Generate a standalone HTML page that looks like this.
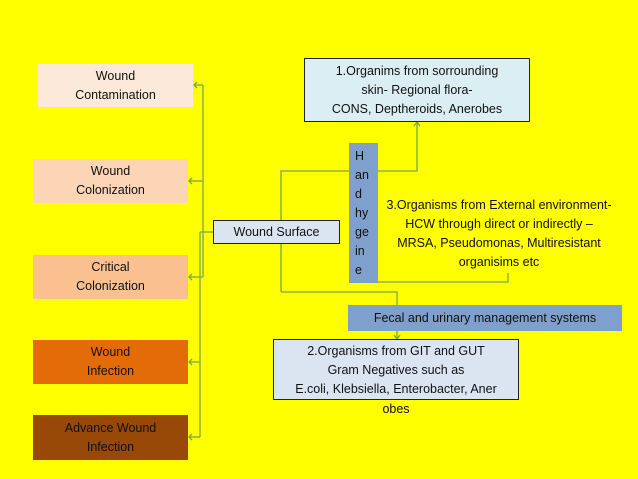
<!DOCTYPE html>
<html><head><style>
body{margin:0;width:638px;height:479px;background:#ffff00;position:relative;overflow:hidden;font-family:"Liberation Sans",sans-serif;font-size:12.5px;color:#111}
.b{position:absolute;box-sizing:border-box;text-align:center;display:flex;align-items:center;justify-content:center;line-height:19px}
svg{position:absolute;left:0;top:0}
</style></head><body>
<svg width="638" height="479">
<g stroke="#7aa84a" stroke-width="1.3" fill="none">
<line x1="203" y1="85" x2="203" y2="277"/>
<line x1="200" y1="232" x2="200" y2="437"/>
<line x1="200" y1="232" x2="213" y2="232"/>
<line x1="194" y1="85" x2="203" y2="85"/>
<line x1="189" y1="181" x2="203" y2="181"/>
<line x1="189" y1="277" x2="203" y2="277"/>
<line x1="189" y1="362" x2="200" y2="362"/>
<line x1="189" y1="437" x2="200" y2="437"/>
<polyline points="197,82 194,85 197,88"/><polyline points="192,178 189,181 192,184"/><polyline points="192,274 189,277 192,280"/><polyline points="192,359 189,362 192,365"/><polyline points="192,434 189,437 192,440"/>
<polyline points="281,292 281,171 417,171 417,122"/>
<polyline points="414,126 417,122 420,126"/>
<polyline points="281,292 397,292 397,339"/>
<polyline points="394,335 397,339 400,335"/>
<polyline points="378,282 508,282 508,273"/>
</g>
</svg>
<div class="b" style="left:38px;top:64px;width:155px;height:43px;background:#fde9d9">Wound<br>Contamination</div>
<div class="b" style="left:33px;top:159px;width:155px;height:44px;background:#fbd5b5">Wound<br>Colonization</div>
<div class="b" style="left:33px;top:255px;width:155px;height:44px;background:#fac08f">Critical<br>Colonization</div>
<div class="b" style="left:33px;top:340px;width:155px;height:44px;background:#e36c09">Wound<br>Infection</div>
<div class="b" style="left:33px;top:415px;width:155px;height:45px;background:#984807">Advance Wound<br>Infection</div>
<div class="b" style="left:213px;top:220px;width:127px;height:24px;background:#dbe5f1;border:1px solid #222">Wound Surface</div>
<div class="b" style="left:349px;top:143px;width:29px;height:140px;background:#7f9fcc;justify-content:flex-start;align-items:flex-start;text-align:left;padding:4px 0 0 6px;line-height:19px">H<br>an<br>d<br>hy<br>ge<br>in<br>e</div>
<div class="b" style="left:304px;top:58px;width:226px;height:64px;background:#dbeef4;border:1px solid #222">1.Organims from sorrounding<br>skin- Regional flora-<br>CONS, Deptheroids, Anerobes</div>
<div class="b" style="left:383px;top:185px;width:232px;height:98px">3.Organisms from External environment- HCW through direct or indirectly –<br>MRSA, Pseudomonas, Multiresistant organisims etc</div>
<div class="b" style="left:348px;top:305px;width:274px;height:26px;background:#7f9fcc">Fecal and urinary management systems</div>
<div class="b" style="left:273px;top:339px;width:246px;height:61px;background:#dbe5f1;border:1px solid #222;align-items:flex-start;padding-top:2px">2.Organisms from GIT and GUT<br>Gram Negatives such as<br>E.coli, Klebsiella, Enterobacter, Aner</div>
<div class="b" style="left:273px;top:400px;width:246px;height:18px">obes</div>
</body></html>
